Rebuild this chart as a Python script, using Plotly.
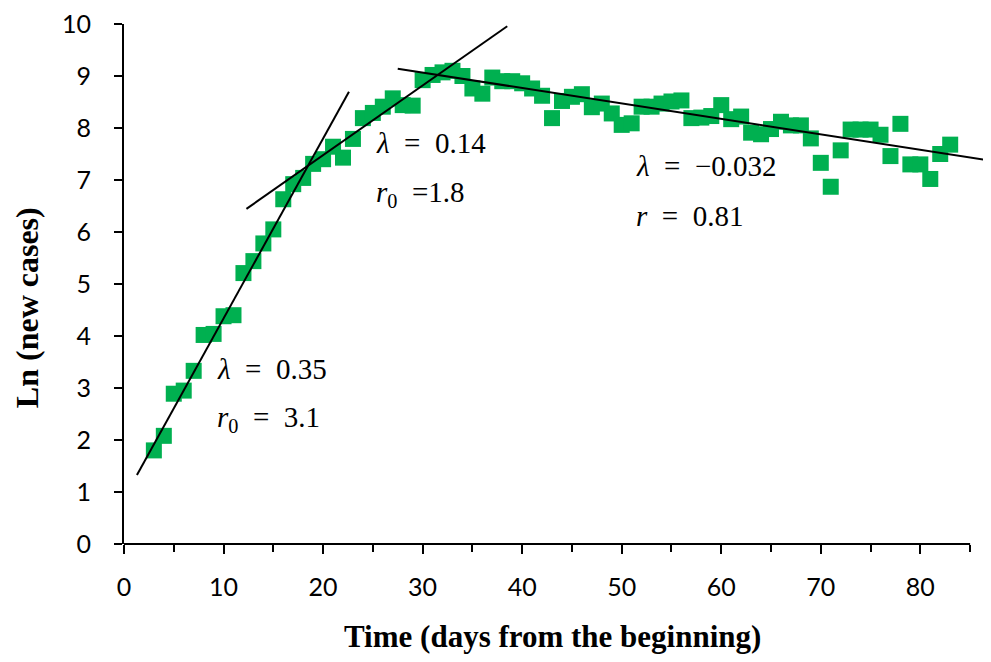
import plotly.graph_objects as go

# ---- data ----
days = list(range(3, 84))
ln_new_cases = [
    1.80, 2.08, 2.89, 2.95, 3.33, 4.02, 4.04, 4.38, 4.40,            # 3-11
    5.21, 5.44, 5.78, 6.05, 6.63, 6.92, 7.04, 7.31, 7.40, 7.64,      # 12-21
    7.43, 7.79, 8.19, 8.29, 8.41, 8.57, 8.44, 8.43, 8.92, 9.02,      # 22-31
    9.07, 9.10, 9.00, 8.76, 8.66, 8.97, 8.90, 8.90, 8.86, 8.76,      # 32-41
    8.62, 8.19, 8.52, 8.60, 8.65, 8.40, 8.47, 8.28, 8.06, 8.09,      # 42-51
    8.41, 8.41, 8.47, 8.51, 8.53, 8.19, 8.20, 8.23, 8.44, 8.17,      # 52-61
    8.22, 7.91, 7.88, 7.98, 8.12, 8.05, 8.05, 7.80, 7.33, 6.87,      # 62-71
    7.57, 7.97, 7.97, 7.97, 7.87, 7.46, 8.08, 7.30, 7.30, 7.02,      # 72-81
    7.50, 7.68,                                                      # 82-83
]

# fitted straight lines: start day, end day, slope, intercept
fit_start = [1.3, 12.3, 27.5]
fit_end = [22.6, 38.5, 87.2]
fit_slope = [0.346, 0.134, -0.0297]
fit_intercept = [0.877, 4.797, 9.957]

# fit labels
NB = "\u00a0"
EQ = NB + NB + "=" + NB + NB
lambda_labels = ["<i>λ</i>" + EQ + "0.35", "<i>λ</i>" + EQ + "0.14", "<i>λ</i>" + EQ + "−0.032"]
r_labels = ["<i>r</i><sub>0</sub>" + EQ + "3.1", "<i>r</i><sub>0</sub>" + NB + NB + "=1.8",
            "<i>r</i>" + EQ + "0.81"]
label_x = [9.1, 25.1, 51.2]
lambda_y = [3.37, 7.71, 7.26]
r_y = [2.40, 6.74, 6.30]

x_ticks = list(range(0, 81, 10))
y_ticks = list(range(0, 11))

X_MAX_AXIS = 85
X_RANGE = [0, 87.1]

fig = go.Figure()

fig.add_trace(go.Scatter(
    x=days, y=ln_new_cases, mode="markers",
    marker=dict(symbol="square", size=16, color="#00B050", line=dict(width=0)),
    showlegend=False, hoverinfo="skip",
))

for xs, xe, m, b in zip(fit_start, fit_end, fit_slope, fit_intercept):
    fig.add_trace(go.Scatter(
        x=[xs, xe], y=[b + m * xs, b + m * xe], mode="lines",
        line=dict(color="black", width=2), showlegend=False, hoverinfo="skip",
    ))

serif = "Liberation Serif"
for xl, yl, txt in zip(label_x, lambda_y, lambda_labels):
    fig.add_annotation(x=xl, y=yl, text=txt, showarrow=False, xanchor="left",
                       yanchor="middle", font=dict(family=serif, size=29, color="black"))
for xl, yl, txt in zip(label_x, r_y, r_labels):
    fig.add_annotation(x=xl, y=yl, text=txt, showarrow=False, xanchor="left",
                       yanchor="middle", font=dict(family=serif, size=29, color="black"))

# axis titles
fig.add_annotation(text="<b>Time (days from the beginning)</b>", xref="paper", yref="paper",
                   x=0.494, y=-0.177, showarrow=False, xanchor="center", yanchor="middle",
                   font=dict(family=serif, size=31, color="black"))
fig.add_annotation(text="<b>Ln (new cases)</b>", xref="paper", yref="paper",
                   x=-0.111, y=0.455, showarrow=False, xanchor="center", yanchor="middle",
                   textangle=-90, font=dict(family=serif, size=32, color="black"))

# x axis line only up to 85
fig.add_shape(type="line", xref="x", yref="paper", x0=0, x1=X_MAX_AXIS, y0=0, y1=0,
              line=dict(color="black", width=2))

tick_font = dict(family="Lato", size=25, color="black")
fig.update_xaxes(
    range=X_RANGE, tickmode="array", tickvals=x_ticks, ticktext=[str(v) for v in x_ticks],
    showline=False, showgrid=False, zeroline=False,
    ticks="outside", ticklen=9, tickwidth=2, tickcolor="black",
    minor=dict(ticks="outside", ticklen=7, tickwidth=2, tickcolor="black",
               tickvals=[5, 15, 25, 35, 45, 55, 65, 75, 85]),
    tickfont=tick_font, ticklabelstandoff=12, ticklabeloverflow="allow",
)
fig.update_yaxes(
    range=[0, 10], tickmode="array", tickvals=y_ticks, ticktext=[str(v) for v in y_ticks],
    showline=True, linecolor="black", linewidth=2, showgrid=False, zeroline=False,
    ticks="outside", ticklen=8, tickwidth=2, tickcolor="black",
    tickfont=tick_font, ticklabelstandoff=18, ticklabeloverflow="allow",
)

# page body adds an 8px offset, so the figure is 8px smaller than the window
fig.update_layout(
    width=983, height=654,
    margin=dict(l=116, r=0, t=11, b=118),
    paper_bgcolor="white", plot_bgcolor="white",
)

fig.write_html("out.html")
